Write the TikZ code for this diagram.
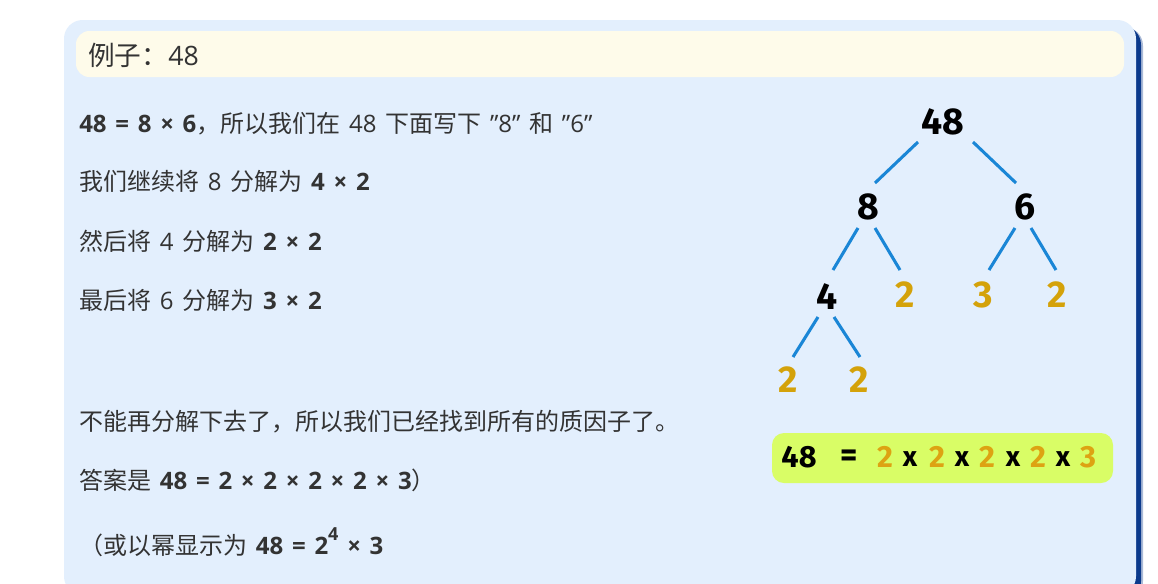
\documentclass[tikz,border=0pt]{standalone}
\usepackage{fontspec}
\setmainfont{Open Sans}[WordSpace=1.4]
\newfontfamily\cjk{Noto Sans CJK SC}
\newfontfamily\hand{Fira Sans}
\usetikzlibrary{calc}
\definecolor{cardbg}{HTML}{E3EFFD}
\definecolor{headbg}{HTML}{FEFBEA}
\definecolor{shadowc}{HTML}{0B3A8C}
\definecolor{txt}{HTML}{333333}
\definecolor{branch}{HTML}{1A86D6}
\definecolor{gold}{HTML}{D4A20A}
\definecolor{resgold}{HTML}{DDA312}
\definecolor{resbg}{HTML}{D9FD66}
\tikzset{
  bodytext/.style={anchor=base west, inner sep=0pt, text=txt, font=\fontsize{18}{22}\selectfont},
  treenum/.style={inner sep=0pt, font=\hand\bfseries\fontsize{28}{30}\selectfont},
  leafnum/.style={treenum, text=gold},
  branchline/.style={draw=branch, line width=2.3pt},
  resnum/.style={inner sep=0pt, font=\hand\bfseries\fontsize{23}{24}\selectfont, text=resgold},
  resop/.style={inner sep=0pt, font=\hand\bfseries\fontsize{21}{22}\selectfont, text=black}
}
\begin{document}
\begin{tikzpicture}[x=0.75pt,y=-0.75pt]
\useasboundingbox (0,0) rectangle (1158,583);
\clip (0,0) rectangle (1158,583);
\fill[white] (0,0) rectangle (1158,583);
% card shadow and card
\fill[shadowc!35, rounded corners=14] (70,27) rectangle (1143,600);
\fill[shadowc, rounded corners=14] (68,26) rectangle (1141,600);
\fill[cardbg, rounded corners=14] (64,20) rectangle (1136,595);
% header
\fill[headbg, rounded corners=10] (76,31) rectangle (1124,77);
\node[anchor=base west, inner sep=0pt, text=txt, font=\fontsize{20}{24}\selectfont] (head) at (88,65) {{\cjk 例子：}48};
% body text
\node[bodytext] (l1) at (79,132) {\textbf{48 = 8 × 6}{\cjk ，所以我们在} 48 {\cjk 下面写下} "8" {\cjk 和} "6"};
\node[bodytext] (l2) at (79,190) {{\cjk 我们继续将} 8 {\cjk 分解为} \textbf{4 × 2}};
\node[bodytext] (l3) at (79,250) {{\cjk 然后将} 4 {\cjk 分解为} \textbf{2 × 2}};
\node[bodytext] (l4) at (79,309) {{\cjk 最后将} 6 {\cjk 分解为} \textbf{3 × 2}};
\node[bodytext] (l5) at (79,430) {{\cjk 不能再分解下去了，所以我们已经找到所有的质因子了。}};
\node[bodytext] (l6) at (79,489) {{\cjk 答案是} \textbf{48 = 2 × 2 × 2 × 2 × 3}{\cjk ）}};
\node[bodytext] (l7) at (79,554) {{\cjk （或以幂显示为} \textbf{48 = 2\raisebox{0.55em}{\fontsize{13.5}{14}\selectfont 4} × 3}};
% tree
\node[treenum] (n48) at (943,122) {48};
\node[treenum] (n8) at (868,207) {8};
\node[treenum] (n6) at (1025,207) {6};
\node[treenum] (n4) at (827,297) {4};
\node[leafnum] (n2a) at (905,295) {2};
\node[leafnum] (n3) at (983,295) {3};
\node[leafnum] (n2b) at (1057,295) {2};
\node[leafnum] (n2c) at (788,380) {2};
\node[leafnum] (n2d) at (859,380) {2};
\draw[branchline] ($(n48)+(-25,20)$) -- ($(n8)+(7,-24)$);
\draw[branchline] ($(n48)+(30,20)$) -- ($(n6)+(-9,-24)$);
\draw[branchline] ($(n8)+(-10,21)$) -- ($(n4)+(6,-27)$);
\draw[branchline] ($(n8)+(7,21)$) -- ($(n2a)+(-5,-25)$);
\draw[branchline] ($(n6)+(-10,21)$) -- ($(n3)+(6,-25)$);
\draw[branchline] ($(n6)+(6,21)$) -- ($(n2b)+(-1,-25)$);
\draw[branchline] ($(n4)+(-9,20)$) -- ($(n2c)+(5,-23)$);
\draw[branchline] ($(n4)+(7,20)$) -- ($(n2d)+(1,-23)$);
% result box
\fill[resbg, rounded corners=9] (772,433) rectangle (1113,483);
\node[resnum, text=black] (r48) at (799,457) {48};
\node[resop, font=\hand\bfseries\fontsize{25}{25}\selectfont] (req) at (849,458) {=};
\node[resnum] (r1) at (885,457) {2};
\node[resop] (x1) at (910,459) {x};
\node[resnum] (r2) at (937,457) {2};
\node[resop] (x2) at (962,459) {x};
\node[resnum] (r3) at (987,457) {2};
\node[resop] (x3) at (1013,459) {x};
\node[resnum] (r4) at (1038,457) {2};
\node[resop] (x4) at (1063,459) {x};
\node[resnum] (r5) at (1088,457) {3};
\end{tikzpicture}
\end{document}
